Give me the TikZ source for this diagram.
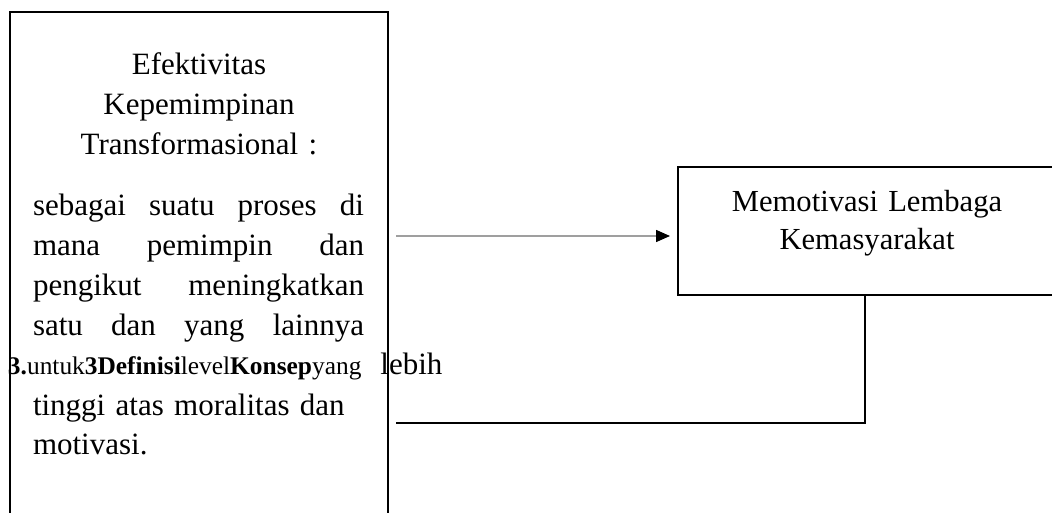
\documentclass[tikz,border=0pt]{standalone}
\usepackage{fontspec}
\setmainfont{Liberation Serif}
\usetikzlibrary{arrows.meta}

\begin{document}
\begin{tikzpicture}[x=1pt, y=-1pt, every node/.style={inner sep=0,outer sep=0},
    box/.style={draw, line width=1.6pt, minimum width=378pt, anchor=north west},
    flow/.style={draw=gray!75, line width=1.4pt, -{Triangle[length=14pt,width=12pt,color=black]}},
    back/.style={line width=1.1pt},
    big/.style={font=\fontsize{31}{40}\selectfont}]
        \path[use as bounding box, clip] (0,0) rectangle (1052,513);

        % Boxes
        \node[box, minimum height=560pt] (efek) at (10,12) {};
        \node[box, minimum height=128pt] (motiv) at (678,167) {};

        % Texts
        \node[big, text width=378pt, align=center, anchor=base] (judul) at (199,75) {Efektivitas\\Kepemimpinan\\Transformasional :};
        \node[big, text width=331pt, align=left, anchor=base west] (defn) at (33,215) {%
            \leavevmode\hbox to 331pt{sebagai\hfill suatu\hfill proses\hfill di}\\
            \leavevmode\hbox to 331pt{mana\hfill pemimpin\hfill dan}\\
            \leavevmode\hbox to 331pt{pengikut\hfill meningkatkan}\\
            \leavevmode\hbox to 331pt{satu\hfill dan\hfill yang\hfill lainnya}\\
            \mbox{\hspace*{-25pt}{\fontsize{25.4}{40}\selectfont\textbf{3.}untuk\textbf{3Definisi}level\textbf{Konsep}yang}\hspace{19pt}lebih}\\
            tinggi atas moralitas dan\\
            motivasi.};
        \node[font=\fontsize{30.6}{37}\selectfont, text width=378pt, align=center, anchor=base] (lembaga) at (867,212) {Memotivasi Lembaga\\Kemasyarakat};

        % Connectors
        \draw[flow] ([shift={(8,224)}]efek.north east) -- ([shift={(-8,69)}]motiv.north west);
        \draw[back] ([xshift=-2pt]motiv.south) |- ([shift={(8,411)}]efek.north east);
      \end{tikzpicture}
\end{document}
